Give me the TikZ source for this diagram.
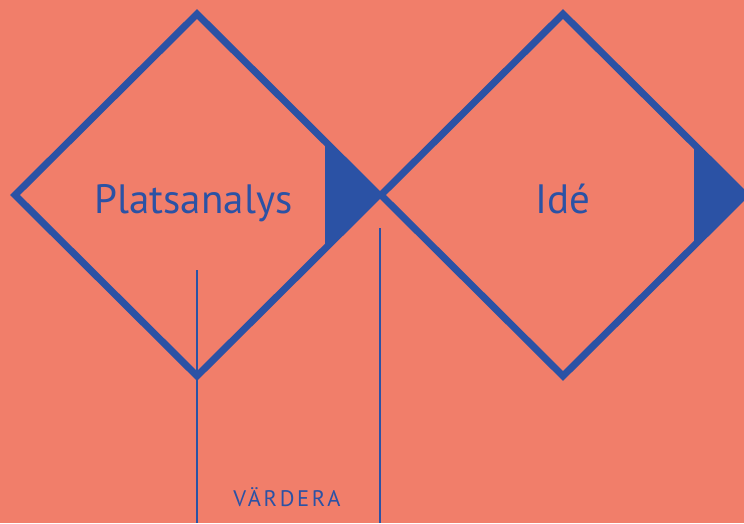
\documentclass[tikz,border=0pt]{standalone}
\usepackage{fontspec}
\setmainfont{PT Sans}
\definecolor{bg}{HTML}{F17E6A}
\definecolor{ink}{HTML}{2B52A5}
\tikzset{
  frame/.style={draw=ink, line width=7pt, line join=miter},
  mark fill/.style={fill=ink, draw=none},
  rule/.style={draw=ink, line width=2.5pt},
  big/.style={text=ink, font=\fontsize{41}{48}\selectfont, inner sep=0pt, anchor=base},
  small/.style={text=ink, font=\fontsize{22.5}{26}\selectfont\addfontfeature{LetterSpace=12}, inner sep=0pt, anchor=base}
}
\begin{document}
\begin{tikzpicture}[x=1pt,y=-1pt]
\useasboundingbox (0,0) rectangle (744,523);
\fill[bg] (0,0) rectangle (744,523);
% filled triangles
\fill[mark fill] (325,141) -- (379,195) -- (325,249) -- cycle;
\fill[mark fill] (694,144) -- (744,195) -- (694,246) -- cycle;
% diamonds
\draw[frame] (197,14) -- (379,195) -- (197,376) -- (15,195) -- cycle;
\draw[frame] (563,14) -- (745,195) -- (563,376) -- (381,195) -- cycle;
% labels
\node[big] (p) at (193.5,213) {Platsanalys};
\node[big] (i) at (563,213) {Idé};
\coordinate (a1) at (197,270);
\coordinate (a2) at (197,523);
\coordinate (b1) at (380,228);
\coordinate (b2) at (380,523);
\draw[rule] (a1) -- (a2);
\draw[rule] (b1) -- (b2);
\node[small] (v) at (287,506) {VÄRDERA};
\end{tikzpicture}
\end{document}
